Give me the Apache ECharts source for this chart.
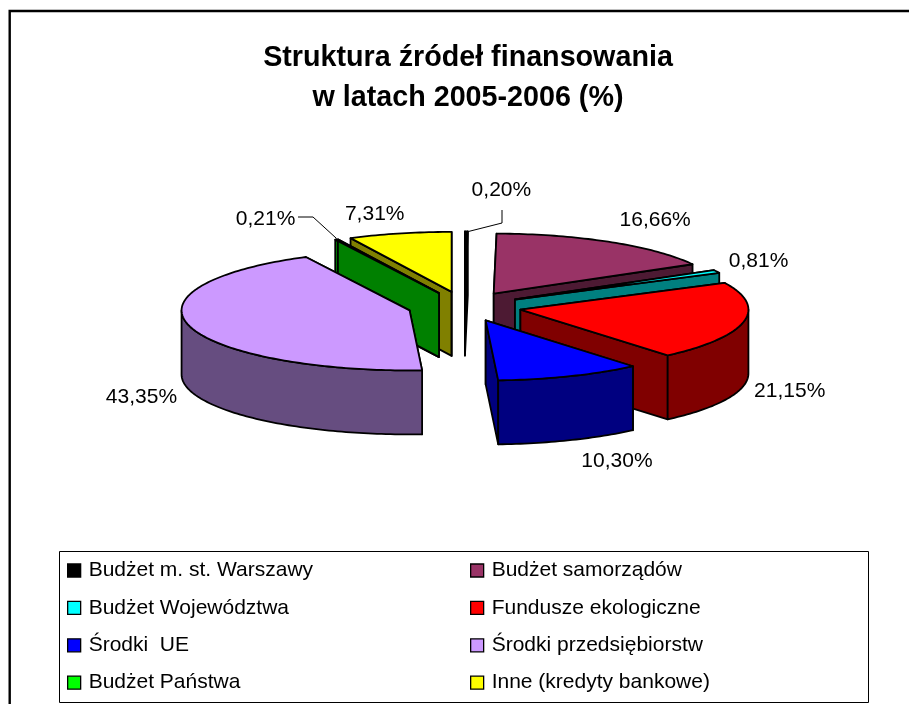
<!DOCTYPE html>
<html><head><meta charset="utf-8">
<style>html,body{margin:0;padding:0;background:#fff}#c{width:909px;height:704px}</style>
<script src="https://cdn.jsdelivr.net/npm/echarts@6/dist/echarts.min.js"></script>
</head><body><div id="c"></div>
<script>
const categories = ['Budżet m. st. Warszawy','Budżet samorządów','Budżet Województwa','Fundusze ekologiczne','Środki  UE','Środki przedsiębiorstw','Budżet Państwa','Inne (kredyty bankowe)'];
const shares = [0.20,16.66,0.81,21.15,10.30,43.35,0.21,7.31];
const topColors = ['#000000','#993366','#00FFFF','#FF0000','#0000FF','#CC99FF','#00FF00','#FFFF00'];
const wallColors = ['#000000','#4D1A33','#008080','#800000','#000080','#664D80','#008000','#808000'];
const titleLines = 'Struktura źródeł finansowania\nw latach 2005-2006 (%)';

// pie projection
const CX=464.6, CY=306.5, RX=228, RY=60, DEPTH=64, EXPLODE=0.25;
// label centres relative to rim point at mid-angle
const labelOffsets = [[35,-41],[45,-21.5],[42,-10.5],[46,69.5],[47,85.5],[-48,71.5],[-71,-20.5],[-25,-19.5]];
const labelFont = '21px "Liberation Sans", Arial, sans-serif';

const total = shares.reduce((a,b)=>a+b,0);
let acc = 0;
const slices = shares.map((v,i)=>{
  const a0 = acc/total*Math.PI*2; acc += v; const a1 = acc/total*Math.PI*2;
  return {i, a0, a1, mid:(a0+a1)/2};
});
function apex(s){ return [CX + EXPLODE*RX*Math.sin(s.mid), CY - EXPLODE*RY*Math.cos(s.mid)]; }
function rim(s,t){ const o=apex(s); return [o[0] + RX*Math.sin(t), o[1] - RY*Math.cos(t)]; }
function arcPts(s,from,to){
  const n = Math.max(2, Math.ceil((to-from)/0.02)), out=[];
  for(let k=0;k<=n;k++) out.push(rim(s,from+(to-from)*k/n));
  return out;
}
const down = p=>[p[0],p[1]+DEPTH];
const stroke = {stroke:'#000',lineWidth:1.8,lineJoin:'round'};
function poly(points,fill){ return {type:'polygon',shape:{points},style:Object.assign({fill},stroke)}; }

function renderSlice(params,api){
  const s = slices[api.value(0)];
  const A = apex(s), pts = arcPts(s,s.a0,s.a1), first = pts[0], last = pts[pts.length-1];
  const top = topColors[s.i], wall = wallColors[s.i];
  const ch = [
    poly([A,first,down(first),down(A)],wall),
    poly([A,last,down(last),down(A)],wall)
  ];
  // outer wall: only the part of the rim that faces the viewer
  const f0 = Math.max(s.a0,Math.PI/2), f1 = Math.min(s.a1,Math.PI*1.5);
  if(f1>f0){
    const front = arcPts(s,f0,f1);
    ch.push(poly(front.concat(front.map(down).reverse()),wall));
  }
  ch.push(poly([A].concat(pts),top));
  const r = rim(s,s.mid), off = labelOffsets[s.i], lx=r[0]+off[0], ly=r[1]+off[1];
  ch.push({type:'text',style:{x:lx,y:ly,text:shares[s.i].toFixed(2).replace('.',',')+'%',font:labelFont,fill:'#000',align:'center',verticalAlign:'middle'},z2:50});
  if(s.i===0){
    ch.push({type:'polyline',shape:{points:[[r[0]+2,r[1]],[502,223],[502,210]]},style:{stroke:'#000',lineWidth:1,fill:null},z2:50});
  }
  if(s.i===6){
    ch.push({type:'polyline',shape:{points:[[r[0],r[1]-1],[313,217],[298,217]]},style:{stroke:'#000',lineWidth:1,fill:null},z2:50});
  }
  return {type:'group',children:ch};
}

// paint back to front
const order = slices.slice().sort((a,b)=>Math.cos(b.mid)-Math.cos(a.mid));
const series = order.map(s=>({
  type:'custom',name:categories[s.i],coordinateSystem:'none',
  itemStyle:{color:topColors[s.i]},
  renderItem:renderSlice,data:[[s.i]],silent:true,animation:false
}));
const legendBase = {orient:'vertical',top:560,itemWidth:13,itemHeight:13,itemGap:16.4,icon:'rect',
  itemStyle:{borderColor:'#000',borderWidth:1.3},
  textStyle:{fontFamily:'"Liberation Sans", Arial, sans-serif',fontSize:21,color:'#000',padding:[0,0,0,3]},padding:0,selectedMode:false};
const chart = echarts.init(document.getElementById('c'),null,{renderer:'canvas'});
chart.setOption({
  animation:false,backgroundColor:'#fff',
  title:{text:titleLines,left:463,top:33,textAlign:'center',textStyle:{fontFamily:'"Liberation Sans", Arial, sans-serif',fontWeight:'bold',fontSize:28.7,lineHeight:40,color:'#000'}},
  legend:[
    Object.assign({},legendBase,{left:67,data:categories.filter((c,i)=>i%2===0)}),
    Object.assign({},legendBase,{left:470,data:categories.filter((c,i)=>i%2===1)})
  ],
  graphic:[
    {type:'polyline',z:-1,shape:{points:[[9.7,712],[9.7,11],[920,11]]},style:{fill:null,stroke:'#000',lineWidth:2.4}},
    {type:'rect',z:-1,shape:{x:59.5,y:551.5,width:809,height:151},style:{fill:'#fff',stroke:'#000',lineWidth:1}}
  ],
  series
});
</script></body></html>
